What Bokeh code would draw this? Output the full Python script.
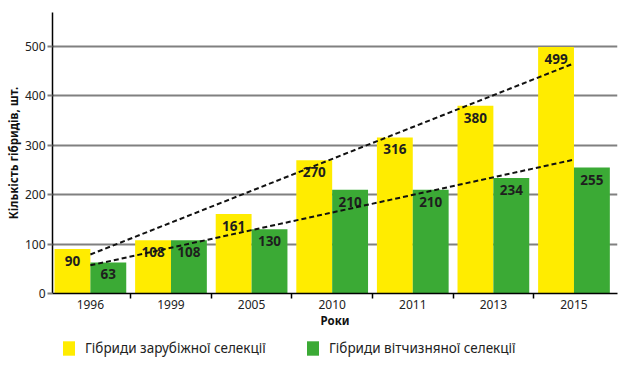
from bokeh.plotting import figure
from bokeh.layouts import column
from bokeh.models import (Range1d, FixedTicker, ColumnDataSource, Legend, LegendItem, Title)
from bokeh.core.properties import value
from bokeh.embed import file_html
from bokeh.resources import INLINE

# ---- data ----
years = ["1996", "1999", "2005", "2010", "2011", "2013", "2015"]
foreign = [90, 108, 161, 270, 316, 380, 499]
domestic = [63, 108, 130, 210, 210, 234, 255]
# dashed trend lines: values read at first and last year
trend_foreign = [79, 466]
trend_domestic = [57, 271]
y_ticks = [0, 100, 200, 300, 400, 500]

foreign_name = "Гібриди зарубіжної селекції"
domestic_name = "Гібриди вітчизняної селекції"
x_title = "Роки"
y_title = "Кількість гібридів, шт."

YELLOW = "#FFEC00"
GREEN = "#3BAA35"
FONT = "Noto Sans"

n = len(years)
centers = [i + 0.5 for i in range(n)]
bw = 0.445

p = figure(width=624, height=332, output_backend="svg", toolbar_location=None,
           x_range=Range1d(0.03, 7.04), y_range=Range1d(0, 569),
           min_border_left=52, min_border_right=7, min_border_top=12, min_border_bottom=39)
p.outline_line_color = None
p.background_fill_color = "white"
p.border_fill_color = "white"

src = ColumnDataSource(dict(
    xf=[c - bw / 2 for c in centers], xd=[c + bw / 2 for c in centers],
    foreign=foreign, domestic=domestic,
    lf=[str(v) for v in foreign], ld=[str(v) for v in domestic]))

rf = p.vbar(x="xf", top="foreign", width=bw, source=src, fill_color=YELLOW, line_color=None)
rd = p.vbar(x="xd", top="domestic", width=bw, source=src, fill_color=GREEN, line_color=None)

p.text(x="xf", y="foreign", text="lf", source=src, text_align="center", text_baseline="middle",
       y_offset=12, text_font=value("Open Sans"), text_font_style="bold",
       text_font_size="13.5px", text_color="#1e1e1e")
p.text(x="xd", y="domestic", text="ld", source=src, text_align="center", text_baseline="middle",
       y_offset=12, text_font=value("Open Sans"), text_font_style="bold",
       text_font_size="13.5px", text_color="#1e1e1e")

p.line([centers[0], centers[-1]], trend_foreign, line_color="#111111", line_width=2, line_dash="5 3")
p.line([centers[0], centers[-1]], trend_domestic, line_color="#111111", line_width=2, line_dash="5 3")

# grid
p.xgrid.visible = False
p.ygrid.ticker = FixedTicker(ticks=y_ticks)
p.ygrid.grid_line_color = "#808080"
p.ygrid.grid_line_width = 2

# y axis
ya = p.yaxis[0]
ya.ticker = FixedTicker(ticks=y_ticks)
ya.axis_line_color = "black"
ya.axis_line_width = 1.5
ya.major_tick_line_color = "#808080"
ya.major_tick_line_width = 2
ya.major_tick_out = 5
ya.major_tick_in = 0
ya.minor_tick_line_color = None
ya.major_label_text_font = FONT
ya.major_label_text_font_size = "12px"
ya.major_label_text_color = "#222222"
ya.major_label_standoff = 2

# x axis: labels at centers, separator ticks between groups
xa = p.xaxis[0]
xa.ticker = FixedTicker(ticks=centers, minor_ticks=[i for i in range(1, n)])
xa.major_label_overrides = {c: y for c, y in zip(centers, years)}
xa.axis_line_color = "black"
xa.axis_line_width = 1.5
xa.major_tick_line_color = None
xa.major_tick_out = 0
xa.major_tick_in = 0
xa.minor_tick_line_color = "black"
xa.minor_tick_line_width = 1.5
xa.minor_tick_out = 5
xa.minor_tick_in = 0
xa.major_label_text_font = FONT
xa.major_label_text_font_size = "12px"
xa.major_label_text_color = "#222222"
xa.major_label_standoff = 1
xa.axis_label = x_title
xa.axis_label_text_font = FONT
xa.axis_label_text_font_size = "11.5px"
xa.axis_label_text_font_style = "bold"
xa.axis_label_text_color = "#111111"
xa.axis_label_standoff = 1

# y title on the left, shifted toward the top like the reference
p.add_layout(Title(text=y_title, align="center", offset=22, standoff=2,
                   text_font=FONT, text_font_size="11.5px", text_font_style="bold",
                   text_color="#111111"), "left")

# legend in its own strip below the chart (bars there fall outside its view)
pl = figure(width=624, height=29, output_backend="svg", toolbar_location=None,
            x_range=Range1d(0.03, 7.04), y_range=Range1d(10000, 10001),
            x_axis_location=None, y_axis_location=None,
            min_border_left=52, min_border_right=7, min_border_top=0, min_border_bottom=0)
pl.outline_line_color = None
pl.xgrid.visible = False
pl.ygrid.visible = False
lf_r = pl.vbar(x="xf", top="foreign", width=bw, source=src, fill_color=YELLOW, line_color=None)
ld_r = pl.vbar(x="xd", top="domestic", width=bw, source=src, fill_color=GREEN, line_color=None)
lg = Legend(items=[LegendItem(label=foreign_name, renderers=[lf_r], index=0),
                   LegendItem(label=domestic_name, renderers=[ld_r], index=0)],
            location=(9, 4), orientation="horizontal", glyph_width=15, glyph_height=18,
            label_standoff=9, label_width=220, padding=0, margin=0, spacing=0,
            border_line_color=None, background_fill_alpha=0,
            label_text_font=FONT, label_text_font_size="13.5px",
            label_text_color="#222222", label_height=18)
pl.add_layout(lg)

layout = column(p, pl, spacing=0)
open("out.html", "w").write(file_html(layout, INLINE))
